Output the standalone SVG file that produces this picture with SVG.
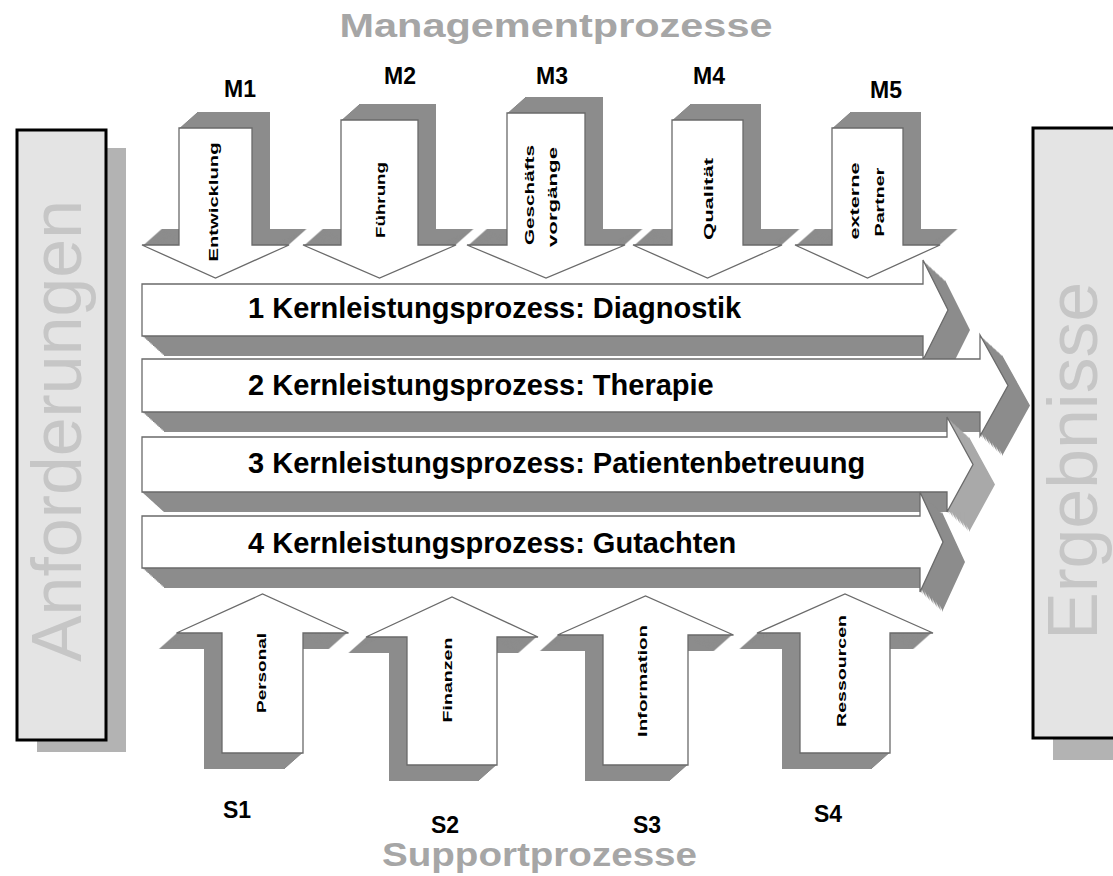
<svg xmlns="http://www.w3.org/2000/svg" xmlns:xlink="http://www.w3.org/1999/xlink" width="1113" height="876" viewBox="0 0 1113 876">
<style>
.face{fill:#ffffff;stroke:#6a6a6a;stroke-width:1.3;stroke-linejoin:miter}
.ext{fill:#8c8c8c}
.extl{fill:#a9a9a9}
.lbl{font-family:"Liberation Sans",Arial,sans-serif;font-weight:bold;fill:#000}
.small{font-size:13px}
.core{font-size:29px}
.id{font-size:23px}
.title{font-family:"Liberation Sans",Arial,sans-serif;font-weight:bold;font-size:33px;fill:#a6a6a6}
.side{font-family:"Liberation Sans",Arial,sans-serif;font-size:70px;fill:#c6c6c6}
.box{fill:#e4e4e4;stroke:#000;stroke-width:3}
.shadow{fill:#b3b3b3}
</style>
<defs>
<path id="a1" d="M142,284 H923 V260 L948,310 L923,360 V336 H142 Z"/>
<path id="a2" d="M142,359 H980 V335 L1008,385.5 L980,436 V412 H142 Z"/>
<path id="a3" d="M142,437 H947 V417 L973,464.5 L947,512 V492 H142 Z"/>
<path id="a4" d="M142,516 H920 V492 L943,542 L920,592 V568 H142 Z"/>
<path id="m1" d="M179,128 H252 V245 H289 L215.5,278 L142,245 H179 Z"/>
<path id="m2" d="M341,120 H418 V245 H456 L379.5,278 L303,245 H341 Z"/>
<path id="m3" d="M507,113 H585 V245 H625 L546,278 L467,245 H507 Z"/>
<path id="m4" d="M672,120 H743 V245 H782 L707.5,278 L633,245 H672 Z"/>
<path id="m5" d="M832,128 H903 V245 H940 L867.5,278 L795,245 H832 Z"/>
<path id="s1" d="M222,753 V633 H176.5 L262.5,594 L348.5,633 H303 V753 Z"/>
<path id="s2" d="M407,765 V637 H366 L452,597 L538,637 H497 V765 Z"/>
<path id="s3" d="M603,765 V635 H557.5 L645.5,596 L733.5,635 H688 V765 Z"/>
<path id="s4" d="M800,753 V633 H757 L845,594 L933,633 H890 V753 Z"/>

<!-- extrusion sweeps (16 stacked copies built by doubling) -->
<g id="h0"><use xlink:href="#a1"/><use xlink:href="#a2"/></g>
<g id="h1"><use xlink:href="#h0"/><use xlink:href="#h0" transform="translate(1.375,1.25)"/></g>
<g id="h2"><use xlink:href="#h1"/><use xlink:href="#h1" transform="translate(2.75,2.5)"/></g>
<g id="h3"><use xlink:href="#h2"/><use xlink:href="#h2" transform="translate(5.5,5)"/></g>
<g id="h4"><use xlink:href="#h3"/><use xlink:href="#h3" transform="translate(11,10)"/></g>

<g id="t1"><use xlink:href="#a3"/><use xlink:href="#a3" transform="translate(1.375,1.25)"/></g>
<g id="t2"><use xlink:href="#t1"/><use xlink:href="#t1" transform="translate(2.75,2.5)"/></g>
<g id="t3"><use xlink:href="#t2"/><use xlink:href="#t2" transform="translate(5.5,5)"/></g>
<g id="t4"><use xlink:href="#t3"/><use xlink:href="#t3" transform="translate(11,10)"/></g>

<g id="u1"><use xlink:href="#a4"/><use xlink:href="#a4" transform="translate(1.375,1.25)"/></g>
<g id="u2"><use xlink:href="#u1"/><use xlink:href="#u1" transform="translate(2.75,2.5)"/></g>
<g id="u3"><use xlink:href="#u2"/><use xlink:href="#u2" transform="translate(5.5,5)"/></g>
<g id="u4"><use xlink:href="#u3"/><use xlink:href="#u3" transform="translate(11,10)"/></g>

<g id="d0"><use xlink:href="#m1"/><use xlink:href="#m2"/><use xlink:href="#m3"/><use xlink:href="#m4"/><use xlink:href="#m5"/></g>
<g id="d1"><use xlink:href="#d0"/><use xlink:href="#d0" transform="translate(1.125,-1)"/></g>
<g id="d2"><use xlink:href="#d1"/><use xlink:href="#d1" transform="translate(2.25,-2)"/></g>
<g id="d3"><use xlink:href="#d2"/><use xlink:href="#d2" transform="translate(4.5,-4)"/></g>
<g id="d4"><use xlink:href="#d3"/><use xlink:href="#d3" transform="translate(9,-8)"/></g>

<g id="p0"><use xlink:href="#s1"/><use xlink:href="#s2"/><use xlink:href="#s3"/><use xlink:href="#s4"/></g>
<g id="p1"><use xlink:href="#p0"/><use xlink:href="#p0" transform="translate(-1.125,1)"/></g>
<g id="p2"><use xlink:href="#p1"/><use xlink:href="#p1" transform="translate(-2.25,2)"/></g>
<g id="p3"><use xlink:href="#p2"/><use xlink:href="#p2" transform="translate(-4.5,4)"/></g>
<g id="p4"><use xlink:href="#p3"/><use xlink:href="#p3" transform="translate(-9,8)"/></g>
</defs>

<rect width="1113" height="876" fill="#ffffff"/>

<!-- titles -->
<text class="title" x="556" y="37" text-anchor="middle" textLength="433" lengthAdjust="spacingAndGlyphs">Managementprozesse</text>
<text class="title" x="382" y="866" textLength="315" lengthAdjust="spacingAndGlyphs">Supportprozesse</text>

<!-- side boxes -->
<g id="anforderungen">
<rect class="shadow" x="37" y="148" width="89" height="604"/>
<rect class="box" x="17" y="130" width="89" height="610"/>
<text class="side" transform="translate(81,431) rotate(-90)" text-anchor="middle" textLength="462" lengthAdjust="spacingAndGlyphs">Anforderungen</text>
</g>
<g id="ergebnisse">
<rect class="shadow" x="1053" y="148" width="70" height="612"/>
<rect class="box" x="1033" y="128" width="90" height="610"/>
<text class="side" transform="translate(1097,461) rotate(-90)" text-anchor="middle" textLength="358" lengthAdjust="spacingAndGlyphs">Ergebnisse</text>
</g>

<!-- extrusions of the core process arrows -->
<g id="core-extrusions">
<use xlink:href="#h4" class="ext" transform="translate(1.375,1.25)"/>
<use xlink:href="#t4" class="extl" transform="translate(1.375,1.25)"/>
<polygon class="ext" points="142,492 947,492 947,512 164,512"/>
<use xlink:href="#u4" class="ext" transform="translate(1.375,1.25)"/>
</g>

<!-- core processes (horizontal arrows) -->
<g id="k1">
<use xlink:href="#a1" class="face"/>
<text class="lbl core" x="248" y="318">1 Kernleistungsprozess: Diagnostik</text>
</g>
<g id="k2">
<use xlink:href="#a2" class="face"/>
<text class="lbl core" x="248" y="395">2 Kernleistungsprozess: Therapie</text>
</g>
<g id="k3">
<use xlink:href="#a3" class="face"/>
<text class="lbl core" x="248" y="473">3 Kernleistungsprozess: Patientenbetreuung</text>
</g>
<g id="k4">
<use xlink:href="#a4" class="face"/>
<text class="lbl core" x="248" y="553">4 Kernleistungsprozess: Gutachten</text>
</g>

<!-- extrusions of management and support arrows -->
<use xlink:href="#d4" class="ext" transform="translate(1.125,-1)"/>
<use xlink:href="#p4" class="ext" transform="translate(-1.125,1)"/>

<!-- management processes (down arrows) -->
<g id="M1">
<use xlink:href="#m1" class="face"/>
<text class="lbl id" x="240" y="97" text-anchor="middle">M1</text>
<text class="lbl small" transform="translate(218,202) rotate(-90)" text-anchor="middle" textLength="119" lengthAdjust="spacingAndGlyphs">Entwicklung</text>
</g>
<g id="M2">
<use xlink:href="#m2" class="face"/>
<text class="lbl id" x="400" y="84" text-anchor="middle">M2</text>
<text class="lbl small" transform="translate(385,200) rotate(-90)" text-anchor="middle" textLength="76" lengthAdjust="spacingAndGlyphs">Führung</text>
</g>
<g id="M3">
<use xlink:href="#m3" class="face"/>
<text class="lbl id" x="552" y="84" text-anchor="middle">M3</text>
<text class="lbl small" transform="translate(534,195) rotate(-90)" text-anchor="middle" textLength="100" lengthAdjust="spacingAndGlyphs">Geschäfts</text>
<text class="lbl small" transform="translate(557,197) rotate(-90)" text-anchor="middle" textLength="100" lengthAdjust="spacingAndGlyphs">vorgänge</text>
</g>
<g id="M4">
<use xlink:href="#m4" class="face"/>
<text class="lbl id" x="709" y="84" text-anchor="middle">M4</text>
<text class="lbl small" transform="translate(713,199) rotate(-90)" text-anchor="middle" textLength="82" lengthAdjust="spacingAndGlyphs">Qualität</text>
</g>
<g id="M5">
<use xlink:href="#m5" class="face"/>
<text class="lbl id" x="886" y="98" text-anchor="middle">M5</text>
<text class="lbl small" transform="translate(859,201) rotate(-90)" text-anchor="middle" textLength="77" lengthAdjust="spacingAndGlyphs">externe</text>
<text class="lbl small" transform="translate(884,202) rotate(-90)" text-anchor="middle" textLength="69" lengthAdjust="spacingAndGlyphs">Partner</text>
</g>

<!-- support processes (up arrows) -->
<g id="S1">
<use xlink:href="#s1" class="face"/>
<text class="lbl small" transform="translate(266,673) rotate(-90)" text-anchor="middle" textLength="80" lengthAdjust="spacingAndGlyphs">Personal</text>
<text class="lbl id" x="237" y="818" text-anchor="middle">S1</text>
</g>
<g id="S2">
<use xlink:href="#s2" class="face"/>
<text class="lbl small" transform="translate(452,680) rotate(-90)" text-anchor="middle" textLength="85" lengthAdjust="spacingAndGlyphs">Finanzen</text>
<text class="lbl id" x="445" y="833" text-anchor="middle">S2</text>
</g>
<g id="S3">
<use xlink:href="#s3" class="face"/>
<text class="lbl small" transform="translate(647,681) rotate(-90)" text-anchor="middle" textLength="112" lengthAdjust="spacingAndGlyphs">Information</text>
<text class="lbl id" x="647" y="833" text-anchor="middle">S3</text>
</g>
<g id="S4">
<use xlink:href="#s4" class="face"/>
<text class="lbl small" transform="translate(846,671) rotate(-90)" text-anchor="middle" textLength="112" lengthAdjust="spacingAndGlyphs">Ressourcen</text>
<text class="lbl id" x="828" y="822" text-anchor="middle">S4</text>
</g>
</svg>
